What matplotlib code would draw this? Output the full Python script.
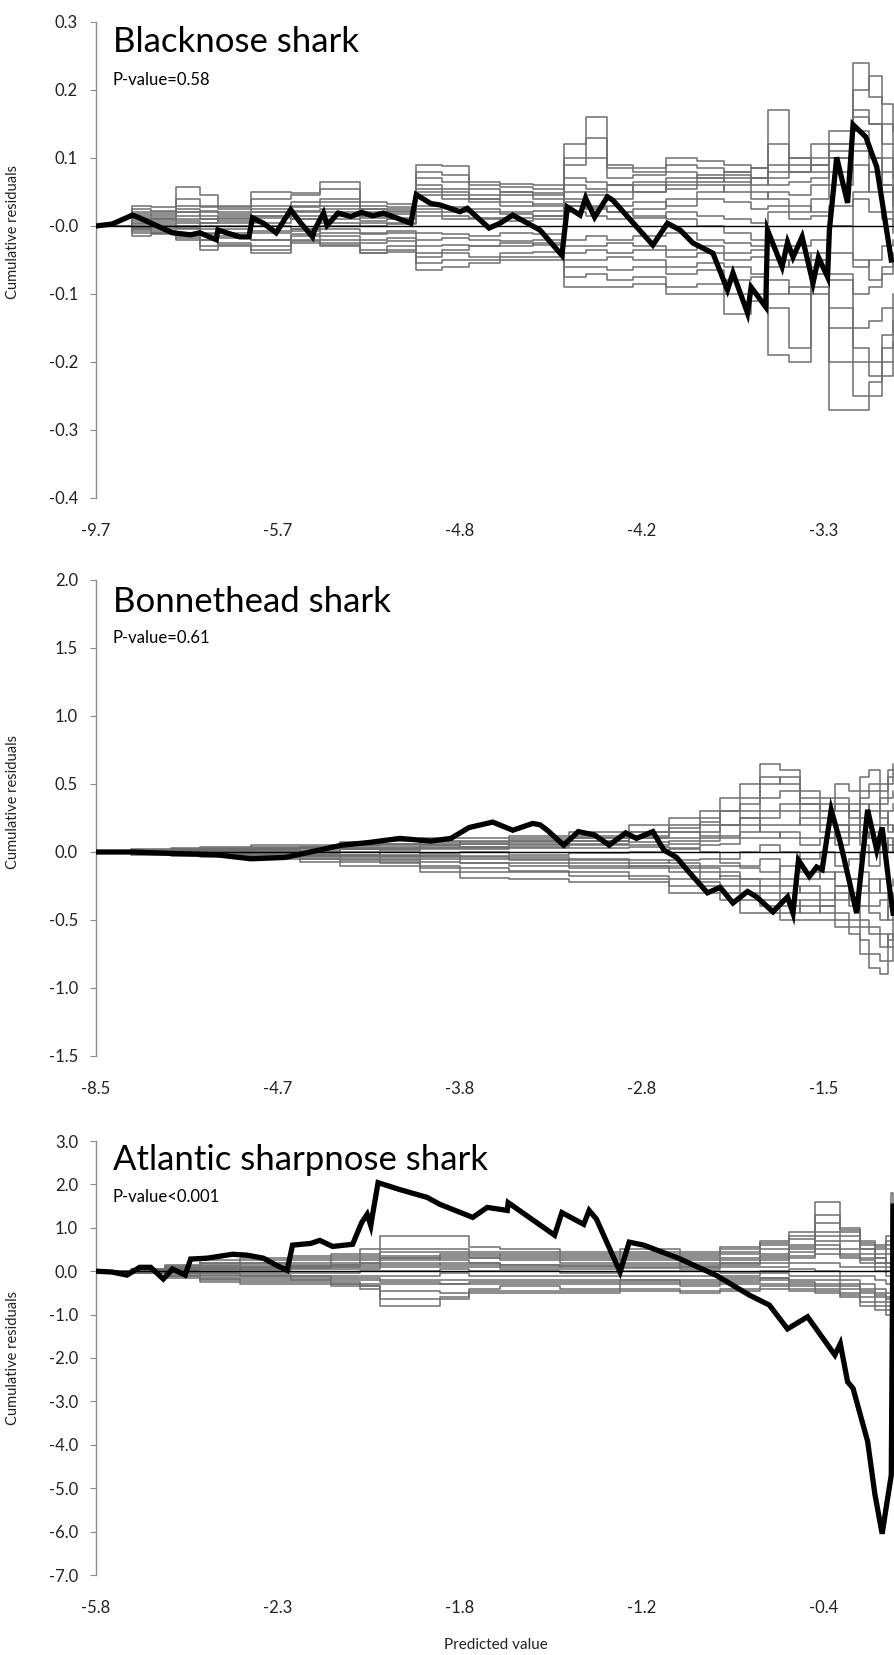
import matplotlib.pyplot as plt
from matplotlib.ticker import FormatStrFormatter

plt.rcParams['font.family'] = ['Lato', 'DejaVu Sans']

# x = rank of the observation after sorting by predicted value
tick_pos = [0, 100, 200, 300, 400]

# ---------------- Blacknose shark ----------------
blacknose_ticks = ['-9.7', '-5.7', '-4.8', '-4.2', '-3.3']
blacknose_obs_x = [0, 9, 20, 23, 42, 52, 57, 66, 67, 79, 84, 86, 92, 99, 107, 112, 119, 120,
                   125, 127, 133, 140, 146, 152, 158, 165, 173, 176, 184, 189, 200, 204, 216, 222,
                   229, 244, 256, 259, 266, 269, 274, 281, 284, 306, 314, 321, 328, 339, 347, 350,
                   358, 360, 368, 369, 377, 380, 383, 388, 394, 397, 402, 403, 407, 413, 416, 423,
                   429, 437]
blacknose_obs_y = [0, .003, .016, .013, -.01, -.013, -.01, -.02, -.006, -.016, -.016, .012, .004,
                   -.01, .024, .006, -.016, -.006, .019, .001, .019, .014, .02, .015, .019, .012,
                   .004, .046, .033, .031, .021, .026, -.003, .004, .016, -.006, -.043, .028, .016,
                   .041, .013, .043, .038, -.028, .004, -.006, -.025, -.04, -.094, -.069, -.128,
                   -.09, -.119, -.006, -.06, -.024, -.046, -.016, -.084, -.046, -.075, -.006, .101,
                   .034, .149, .131, .087, -.05]
blacknose_sim_x = [0, 20, 30, 44, 57, 67, 85, 107, 123, 145, 160, 176, 190, 205, 222, 240, 257,
                   269, 281, 295, 313, 330, 345, 360, 369, 381, 393, 403, 416, 425, 432, 438]
blacknose_sims = [
    [0, .03, .028, .057, .045, .03, .05, .048, .065, .035, .033, .09, .088, .065, .062, .06, .12, .16, .09, .085, .1, .095, .09, .085, .08, .1, .12, .14, .24, .19, .15, .12],
    [0, .02, .022, .03, .028, .025, .03, .035, .04, .03, .028, .07, .065, .055, .05, .048, .09, .1, .07, .075, .08, .07, .075, .07, .06, .065, .07, .08, .17, .15, .1, .07],
    [0, .01, .012, .015, .02, .018, .02, .022, .025, .02, .02, .055, .05, .04, .045, .04, .06, .055, .05, .06, .055, .06, .05, .04, .05, .045, .06, .1, .14, .1, .06, .03],
    [0, .005, .008, .01, .01, .008, .012, .015, .01, .012, .01, .03, .028, .025, .02, .022, .035, .03, .03, .035, .03, .04, .035, .025, .03, .02, .04, .06, .09, .05, .02, 0],
    [0, -.005, 0, .005, -.005, 0, .005, .01, .005, 0, .005, .015, .01, .012, .008, .01, .02, .015, .01, .012, .02, .015, .01, .005, .02, .01, .015, .03, .04, .02, .01, -.01],
    [0, 0, -.005, -.005, -.01, -.01, -.008, -.005, -.01, -.012, -.01, -.01, -.012, -.015, -.01, -.012, -.02, -.015, -.02, -.015, -.01, -.02, -.025, -.03, -.02, -.03, -.02, -.04, -.06, -.05, -.03, -.02],
    [0, -.01, -.01, -.015, -.02, -.018, -.02, -.015, -.02, -.025, -.022, -.03, -.028, -.03, -.025, -.028, -.04, -.035, -.04, -.035, -.045, -.04, -.05, -.045, -.06, -.05, -.04, -.08, -.1, -.09, -.07, -.05],
    [0, -.015, -.012, -.02, -.035, -.025, -.03, -.02, -.025, -.035, -.03, -.045, -.04, -.045, -.04, -.038, -.06, -.06, -.065, -.06, -.07, -.065, -.08, -.075, -.1, -.09, -.07, -.12, -.15, -.14, -.12, -.1],
    [0, .015, .018, .025, .01, .015, .02, .03, .035, .015, .018, .045, .04, .035, .03, .032, .05, .045, .04, .05, .06, .065, .07, .06, .09, .08, .1, .12, .11, .08, .05, .02],
    [0, -.005, -.008, -.01, -.02, -.03, -.04, -.025, -.03, -.04, -.038, -.065, -.06, -.055, -.05, -.05, -.09, -.09, -.09, -.085, -.1, -.1, -.13, -.11, -.19, -.2, -.1, -.27, -.27, -.25, -.22, -.2],
    [0, .008, .01, .02, .015, .012, .015, .02, .02, .015, .012, .025, .02, .02, .018, .015, .03, .025, .02, .015, .01, 0, -.01, -.02, -.03, -.04, -.05, -.07, -.18, -.2, -.16, -.12],
    [0, .003, .005, 0, .005, .005, 0, -.005, 0, .005, .003, .05, .045, .04, .035, .03, .03, .028, .02, .025, .04, .05, .06, .07, .12, .09, .08, .1, .12, .1, .08, .05],
    [0, -.003, -.002, 0, 0, -.005, -.01, -.008, -.005, -.01, -.008, -.04, -.035, -.03, -.03, -.025, -.05, -.05, -.045, -.05, -.06, -.055, -.06, -.07, -.08, -.1, -.06, -.15, -.2, -.22, -.18, -.14],
    [0, .012, .01, .008, .005, .01, .015, .01, .015, .008, .01, .02, .015, .01, .012, .015, .04, .05, .06, .05, .07, .075, .08, .085, .07, .08, .09, .11, .16, .15, .12, .08],
    [0, .025, .02, .04, .03, .028, .04, .045, .055, .025, .025, .08, .075, .06, .058, .055, .1, .13, .085, .08, .09, .085, .08, .07, .17, .1, .09, .12, .2, .22, .18, .14],
    [0, -.008, -.01, -.018, -.03, -.028, -.035, -.022, -.028, -.04, -.035, -.055, -.05, -.05, -.045, -.045, -.075, -.07, -.08, -.075, -.09, -.085, -.1, -.1, -.12, -.18, -.09, -.2, -.25, -.23, -.2, -.17],
    [0, .018, .015, .02, .022, .02, .025, .028, .03, .025, .022, .06, .055, .045, .05, .045, .07, .065, .06, .065, .065, .07, .065, .05, .04, .03, .02, 0, -.05, -.08, -.06, -.04],
    [0, -.002, .002, -.003, -.012, -.015, -.02, -.012, -.015, -.02, -.018, -.02, -.018, -.02, -.022, -.02, -.03, -.03, -.025, -.03, -.035, -.03, -.04, -.035, -.05, -.06, -.05, 0, .05, .08, .06, .04],
]

# ---------------- Bonnethead shark ----------------
bonnethead_ticks = ['-8.5', '-4.7', '-3.8', '-2.8', '-1.5']
bonnethead_obs_x = [0, 19, 41, 66, 85, 104, 123, 135, 150, 167, 184, 195, 205, 218, 229, 240, 244,
                    248, 257, 265, 274, 282, 291, 297, 306, 312, 319, 326, 336, 343, 350, 358, 363,
                    372, 380, 383, 386, 392, 396, 399, 404, 409, 418, 424, 429, 432, 436, 438]
bonnethead_obs_y = [0, 0, -.01, -.02, -.05, -.04, .015, .05, .07, .1, .08, .1, .18, .22, .16, .21,
                    .2, .16, .05, .15, .125, .05, .14, .1, .15, .015, -.04, -.15, -.3, -.26, -.375,
                    -.29, -.33, -.44, -.33, -.45, -.06, -.18, -.11, -.13, .31, .07, -.45, .31, .015,
                    .18, -.26, -.45]
bonnethead_sim_x = [0, 19, 41, 57, 85, 112, 134, 156, 178, 200, 227, 260, 293, 315, 332, 343, 354,
                    365, 376, 387, 398, 406, 414, 420, 425, 431, 435, 438]
bonnethead_sims = [
    [0, .02, .03, .04, .05, .05, .07, .08, .1, .1, .12, .15, .2, .25, .3, .4, .5, .65, .6, .45, .4, .5, .45, .55, .6, .5, .6, .65],
    [0, .015, .02, .03, .04, .04, .05, .06, .07, .08, .09, .1, .12, .15, .2, .3, .35, .5, .55, .4, .35, .3, .35, .4, .45, .35, .4, .45],
    [0, .01, .015, .02, .025, .03, .04, .04, .05, .06, .07, .08, .1, .1, .15, .2, .25, .3, .35, .3, .25, .2, .3, .2, .3, .25, .15, .2],
    [0, .005, .01, .015, .02, .02, .03, .025, .03, .04, .05, .06, .07, .06, .1, .12, .15, .2, .2, .25, .2, .15, .1, .15, .1, .2, .3, .35],
    [0, 0, .005, .01, .01, 0, .02, .01, .02, .02, .03, .03, .04, .03, .05, .06, .1, .1, .15, .1, .1, .05, .1, .05, 0, .1, .05, .1],
    [0, 0, -.005, -.01, 0, -.01, 0, -.02, -.01, 0, -.02, -.01, 0, .02, 0, -.05, 0, .05, 0, -.05, 0, -.1, -.05, 0, -.1, 0, .1, 0],
    [0, -.005, -.01, -.01, -.02, -.02, -.03, -.03, -.04, -.05, -.04, -.05, -.06, -.08, -.1, -.1, -.12, -.15, -.1, -.15, -.2, -.15, -.2, -.25, -.3, -.2, -.25, -.2],
    [0, -.01, -.015, -.02, -.03, -.04, -.05, -.05, -.07, -.08, -.08, -.1, -.1, -.12, -.15, -.2, -.2, -.25, -.3, -.25, -.3, -.35, -.3, -.4, -.45, -.5, -.4, -.35],
    [0, -.015, -.02, -.03, -.04, -.05, -.07, -.08, -.1, -.12, -.14, -.15, -.18, -.2, -.22, -.25, -.3, -.35, -.4, -.35, -.4, -.45, -.5, -.55, -.6, -.7, -.6, -.5],
    [0, -.02, -.03, -.04, -.05, -.07, -.1, -.1, -.15, -.19, -.2, -.22, -.22, -.3, -.3, -.35, -.45, -.45, -.5, -.5, -.5, -.55, -.6, -.75, -.85, -.9, -.8, -.7],
    [0, .01, .01, 0, .02, .03, .02, .03, .05, .04, .06, .08, .1, .15, .12, .2, .3, .4, .45, .35, .3, .4, .3, .35, .2, .4, .5, .55],
    [0, -.01, 0, .01, -.01, -.03, -.04, -.06, -.05, -.08, -.1, -.12, -.1, -.15, -.2, -.18, -.25, -.3, -.35, -.45, -.4, -.3, -.4, -.5, -.55, -.6, -.7, -.6],
    [0, .005, .02, .025, .03, .035, .05, .06, .06, .07, .08, .1, .15, .2, .25, .2, .25, .15, .1, .05, .1, .2, .15, .25, .35, .3, .2, .15],
    [0, -.005, -.01, -.015, -.01, -.02, -.02, -.04, -.03, -.03, -.05, -.06, -.08, -.06, -.05, -.08, -.1, -.05, -.2, -.2, -.15, -.25, -.2, -.15, -.4, -.35, -.5, -.45],
    [0, .01, .02, .02, .03, .04, .05, .05, .08, .06, .1, .12, .15, .18, .22, .3, .4, .55, .5, .35, .3, .35, .25, .45, .5, .45, .55, .6],
    [0, -.01, -.02, -.02, -.03, -.05, -.06, -.07, -.12, -.15, -.15, -.18, -.2, -.25, -.25, -.3, -.35, -.4, -.45, -.4, -.45, -.5, -.55, -.65, -.75, -.8, -.65, -.6],
    [0, .005, .005, .01, .015, .01, .02, .02, .04, .03, .04, .05, .05, .08, .08, .1, .2, .25, .3, .2, .15, .1, .2, .1, .15, .05, 0, .05],
    [0, -.005, -.005, 0, -.02, -.03, -.02, -.03, -.02, -.04, -.06, -.08, -.12, -.1, -.12, -.15, -.2, -.2, -.25, -.3, -.35, -.25, -.35, -.3, -.2, -.3, -.35, -.3],
]

# ---------------- Atlantic sharpnose shark ----------------
sharpnose_ticks = ['-5.8', '-2.3', '-1.8', '-1.2', '-0.4']
sharpnose_obs_x = [0, 9, 17, 24, 30, 37, 42, 49, 52, 61, 75, 83, 92, 99, 105, 108, 118, 123, 130,
                   141, 146, 149, 151, 152, 155, 167, 182, 189, 207, 215, 226, 226.5, 252, 256,
                   268, 271, 275, 288, 293, 301, 320, 341, 359, 370, 380, 391, 406, 409, 413, 416,
                   424, 428, 432, 434, 437, 438]
sharpnose_obs_y = [0, -.02, -.09, .09, .09, -.18, .05, -.09, .28, .3, .39, .37, .3, .14, .02, .6,
                   .64, .71, .57, .62, 1.12, 1.31, 1.05, 1.31, 2.04, 1.88, 1.7, 1.54, 1.24, 1.47,
                   1.4, 1.58, .83, 1.35, 1.08, 1.4, 1.2, -.02, .67, .6, .3, -.1, -.55, -.78, -1.33,
                   -1.05, -1.93, -1.67, -2.55, -2.7, -3.92, -5.14, -6.05, -5.5, -4.7, 1.5]
sharpnose_sim_x = [0, 19, 38, 57, 79, 107, 129, 145, 156, 189, 205, 222, 255, 288, 321, 343, 365,
                   381, 395, 409, 420, 428, 434, 437, 438]
sharpnose_sims = [
    [0, .05, .15, .25, .3, .35, .4, .5, .8, .8, .55, .5, .45, .4, .35, .45, .6, .9, 1.6, 1.0, .7, .6, .8, 1.8, .5],
    [0, .03, .1, .2, .25, .3, .35, .4, .5, .5, .45, .45, .4, .5, .45, .55, .7, .8, 1.1, .9, .6, .5, .6, 1.2, .3],
    [0, .02, .08, .15, .2, .2, .25, .3, .35, .4, .4, .35, .3, .35, .3, .4, .5, .6, .8, .7, .5, .4, .5, .9, .2],
    [0, .01, .05, .1, .1, .15, .2, .2, .25, .3, .3, .25, .2, .25, .25, .3, .35, .5, .6, .5, .4, .3, .2, .6, .1],
    [0, 0, .02, .05, .05, .1, .1, .15, .15, .2, .2, .15, .1, .15, .1, .2, .25, .3, .4, .3, .2, .2, .1, .3, 0],
    [0, -.01, 0, 0, .02, .05, .05, .05, .1, .1, .1, .05, .05, .1, .05, .1, .1, .2, .2, .1, .1, 0, -.1, -.3, -.1],
    [0, -.01, -.02, -.05, -.05, -.05, -.05, 0, 0, .05, 0, 0, -.05, 0, 0, -.05, 0, .05, 0, -.1, -.1, -.2, -.3, -.5, -.2],
    [0, -.02, -.05, -.1, -.1, -.1, -.1, -.1, -.1, -.05, -.1, -.1, -.1, -.1, -.1, -.1, -.05, -.1, -.1, -.2, -.3, -.4, -.5, -.8, -.3],
    [0, -.03, -.08, -.15, -.15, -.15, -.2, -.2, -.2, -.2, -.2, -.2, -.2, -.2, -.2, -.15, -.15, -.2, -.2, -.3, -.4, -.5, -.6, -1.0, -.4],
    [0, -.04, -.1, -.2, -.2, -.2, -.25, -.3, -.3, -.3, -.3, -.3, -.3, -.25, -.3, -.25, -.2, -.3, -.35, -.4, -.5, -.6, -.7, -1.3, -.5],
    [0, -.05, -.15, -.25, -.3, -.3, -.35, -.4, -.8, -.65, -.5, -.5, -.5, -.45, -.5, -.45, -.4, -.45, -.5, -.6, -.8, -.9, -1.0, -1.7, -.5],
    [0, .04, .12, .2, .15, .1, .15, .2, .3, .25, .2, .15, .15, .2, .15, .2, .3, .45, .7, .4, .3, .2, .4, 1.0, .2],
    [0, -.02, -.05, -.08, -.12, -.2, -.3, -.35, -.65, -.6, -.4, -.35, -.4, -.3, -.35, -.3, -.3, -.35, -.4, -.5, -.6, -.7, -.8, -1.2, -.3],
    [0, .02, .05, .08, .1, .12, .15, .25, .3, .35, .3, .3, .25, .3, .2, .25, .4, .55, .9, .8, .5, .3, .2, .5, .1],
    [0, .03, .08, .12, .2, .25, .3, .35, .45, .45, .35, .4, .35, .45, .4, .5, .65, .75, 1.3, .95, .65, .55, .7, 1.5, .4],
    [0, -.03, -.1, -.18, -.25, -.25, -.3, -.35, -.45, -.5, -.45, -.45, -.45, -.4, -.45, -.4, -.35, -.4, -.45, -.55, -.7, -.8, -.9, -1.5, -.45],
    [0, .01, .03, .05, .08, .08, .1, .1, .2, .15, .15, .1, .12, .08, .1, .15, .2, .35, .5, .35, .25, .1, 0, .4, .05],
    [0, -.02, -.03, -.05, -.08, -.12, -.15, -.15, -.25, -.3, -.25, -.25, -.25, -.2, -.25, -.2, -.15, -.25, -.3, -.35, -.45, -.55, -.65, -1.1, -.35],
]


# dibuja un panel: simulaciones en gris, residuos observados en negro
def draw_panel(rect, ylim, ystep, ticklabels, sim_x, sims, obs_x, obs_y,
               title, pvalue, title_y, p_y, ylab_y):
    ax = fig.add_axes(rect)
    for s in sims:
        ax.plot(sim_x, s, color='#6f6f6f', lw=1.1, drawstyle='steps-post', zorder=2)
    ax.axhline(0, color='black', lw=1.0, zorder=3)
    ax.plot(obs_x, obs_y, color='black', lw=3.8, solid_joinstyle='miter', zorder=4)

    ax.set_xlim(0, 438.5)
    ax.set_ylim(*ylim)
    yt = []
    v = ylim[0]
    while v <= ylim[1] + 1e-9:
        yt.append(round(v, 2))
        v += ystep
    ax.set_yticks(yt)
    ax.yaxis.set_major_formatter(FormatStrFormatter('%.1f'))
    ax.set_xticks(tick_pos)
    ax.set_xticklabels(ticklabels)

    for side in ['top', 'right', 'bottom']:
        ax.spines[side].set_visible(False)
    ax.spines['left'].set_color('#8c8c8c')
    ax.spines['left'].set_linewidth(1.0)
    ax.tick_params(axis='y', length=4, width=0.8, color='#8c8c8c', pad=9,
                   labelsize=12, labelcolor='#222222')
    ax.tick_params(axis='x', length=0, pad=18, labelsize=12, labelcolor='#222222')

    ax.set_ylabel('Cumulative residuals', fontsize=10.5, color='#222222')
    ax.yaxis.set_label_coords(-0.095, ylab_y)

    ax.text(0.021, title_y, title, transform=ax.transAxes, fontsize=25,
            va='center', ha='left', color='black')
    ax.text(0.021, p_y, pvalue, transform=ax.transAxes, fontsize=12,
            va='center', ha='left', color='black')
    return ax


fig = plt.figure(figsize=(8.94, 16.55), dpi=100)
left = 96 / 894
width = 1.0 - left

draw_panel([left, 1 - 498 / 1655, width, 476 / 1655], (-0.4, 0.3), 0.1, blacknose_ticks,
           blacknose_sim_x, blacknose_sims, blacknose_obs_x, blacknose_obs_y,
           'Blacknose shark', 'P-value=0.58', 0.958, 0.878, 0.559)
draw_panel([left, 1 - 1056 / 1655, width, 476 / 1655], (-1.5, 2.0), 0.5, bonnethead_ticks,
           bonnethead_sim_x, bonnethead_sims, bonnethead_obs_x, bonnethead_obs_y,
           'Bonnethead shark', 'P-value=0.61', 0.954, 0.878, 0.534)
draw_panel([left, 1 - 1575 / 1655, width, 434 / 1655], (-7.0, 3.0), 1.0, sharpnose_ticks,
           sharpnose_sim_x, sharpnose_sims, sharpnose_obs_x, sharpnose_obs_y,
           'Atlantic sharpnose shark', 'P-value<0.001', 0.956, 0.871, 0.50)

fig.text(496 / 894, 1 - 1645 / 1655, 'Predicted value', fontsize=11, ha='center',
         va='center', color='#222222')

fig.savefig('out.png', dpi=100)
